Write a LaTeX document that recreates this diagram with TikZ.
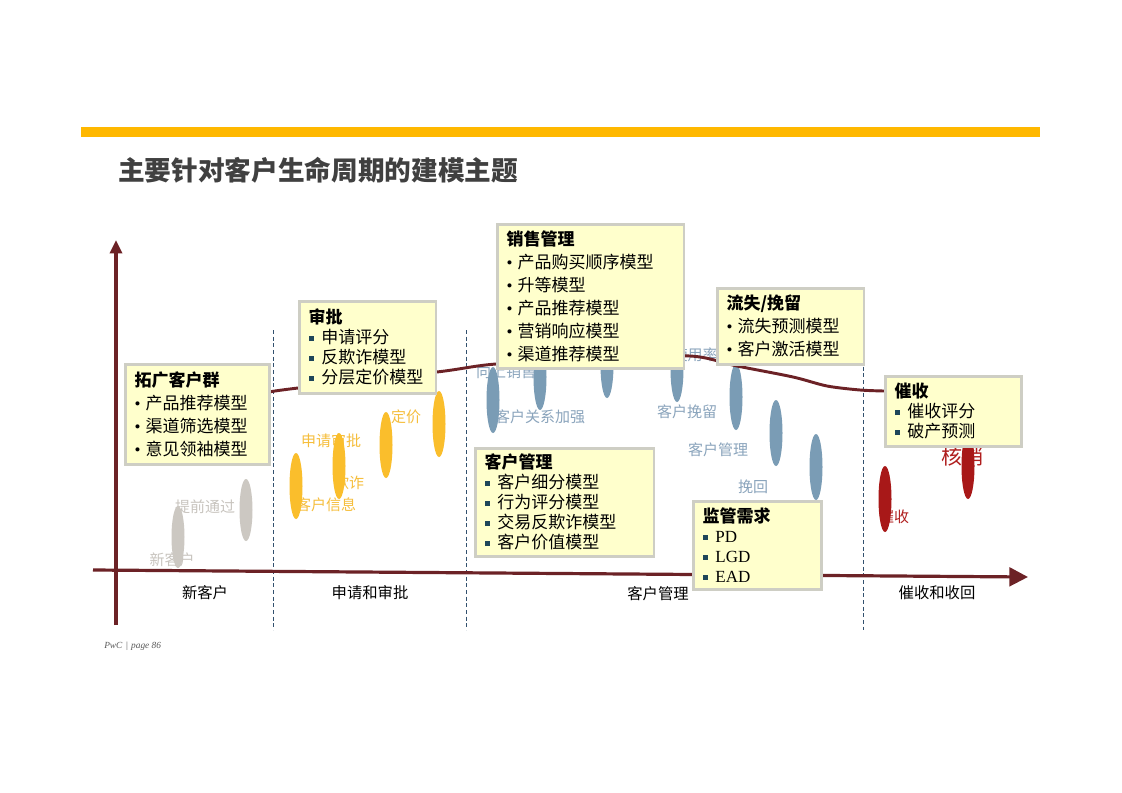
\documentclass[tikz,border=0pt]{standalone}
\usepackage{fontspec}
\setmainfont{Noto Sans CJK SC}
\newfontfamily\serifrm{Liberation Serif}
\usetikzlibrary{arrows.meta}
\pgfdeclarelayer{background}
\pgfsetlayers{background,main}

\definecolor{barColor}{RGB}{255,184,0}
\definecolor{titleColor}{RGB}{64,64,64}
\definecolor{axisColor}{RGB}{108,34,38}
\definecolor{dashColor}{RGB}{50,80,110}
\definecolor{boxFill}{RGB}{255,255,204}
\definecolor{boxLine}{RGB}{206,206,196}
\definecolor{bulletColor}{RGB}{30,70,90}
\definecolor{grayEll}{RGB}{204,200,194}
\definecolor{orangeEll}{RGB}{250,190,44}
\definecolor{blueEll}{RGB}{122,156,181}
\definecolor{redEll}{RGB}{168,24,24}
\definecolor{grayText}{RGB}{200,196,190}
\definecolor{orangeText}{RGB}{246,190,60}
\definecolor{blueText}{RGB}{138,164,188}
\definecolor{redText}{RGB}{176,30,30}
\definecolor{footColor}{RGB}{90,90,90}

\newcommand{\rdbul}{{\serifrm\textbullet}\hspace{0.3em}}
\newcommand{\sqbul}{{\color{bulletColor}\rule[0.3ex]{0.3em}{0.3em}}\hspace{0.45em}}

\begin{document}
\begin{tikzpicture}[x=0.75pt,y=-0.75pt,
  modelbox/.style={draw=boxLine,line width=2pt,fill=boxFill,anchor=north west,
    align=left,inner xsep=7pt,inner ysep=3pt,font=\fontsize{12.75}{17.25}\selectfont},
  tightbox/.style={modelbox,font=\fontsize{12.75}{15}\selectfont},
  axisline/.style={draw=axisColor,line width=2.4pt},
  stagedash/.style={draw=dashColor,line width=0.6pt,dash pattern=on 3pt off 2pt},
  stagelabel/.style={inner sep=0pt,font=\fontsize{11.5}{12}\selectfont},
  phaselabel/.style={inner sep=0pt,font=\fontsize{11.25}{12}\selectfont}]
\path[use as bounding box] (0,0) rectangle (1122,793);

% header
\fill[barColor] (81,127) rectangle (1040,137);
\node[anchor=west,inner sep=0pt,text=titleColor,font=\fontsize{20}{24}\selectfont\bfseries] (title) at (118,170) {主要针对客户生命周期的建模主题};

% model boxes
\node[modelbox,text width=94pt,minimum height=75pt] (tuoguang) at (124,363)
  {\textbf{拓广客户群}\\ \rdbul 产品推荐模型\\ \rdbul 渠道筛选模型\\ \rdbul 意见领袖模型};
\node[tightbox,text width=88.5pt,minimum height=69pt] (shenpi) at (298,300)
  {\textbf{审批}\\ \sqbul 申请评分\\ \sqbul 反欺诈模型\\ \sqbul 分层定价模型};
\node[modelbox,text width=126pt,minimum height=108pt] (xiaoshou) at (496,223)
  {\textbf{销售管理}\\ \rdbul 产品购买顺序模型\\ \rdbul 升等模型\\ \rdbul 产品推荐模型\\ \rdbul 营销响应模型\\ \rdbul 渠道推荐模型};
\node[modelbox,text width=96pt,minimum height=57pt] (liushi) at (716,287)
  {\textbf{流失/挽留}\\ \rdbul 流失预测模型\\ \rdbul 客户激活模型};
\node[tightbox,text width=88pt,minimum height=52.5pt] (cuishou) at (884,375)
  {\textbf{催收}\\ \sqbul 催收评分\\ \sqbul 破产预测};
\node[tightbox,text width=120pt,minimum height=81pt] (kehu) at (474,447)
  {\textbf{客户管理}\\ \sqbul 客户细分模型\\ \sqbul 行为评分模型\\ \sqbul 交易反欺诈模型\\ \sqbul 客户价值模型};
\node[tightbox,text width=82pt,minimum height=66pt] (jianguan) at (692,500)
  {\textbf{监管需求}\\ \sqbul {\serifrm PD}\\ \sqbul {\serifrm LGD}\\ \sqbul {\serifrm EAD}};

\begin{pgfonlayer}{background}
\fill[white] (0,0) rectangle (1122,793);
% stage separators
\draw[stagedash] (273,330) -- (273,630);
\draw[stagedash] (466,330) -- (466,630);
\draw[stagedash] (863,300) -- (863,630);

% axes
\draw[axisline,-{Triangle[length=10pt,width=9pt]}] (116,625) -- (116,240);
\draw[axisline,-{Triangle[length=14pt,width=14pt]}] (93,570) -- (1028,577);

% stages
\node[stagelabel] (s1) at (205,593) {新客户};
\node[stagelabel] (s2) at (370,593) {申请和审批};
\node[stagelabel] (s3) at (658,594) {客户管理};
\node[stagelabel] (s4) at (937,593) {催收和收回};

% phase labels
\node[phaselabel,text=grayText] (g1) at (172,560) {新客户};
\node[phaselabel,text=grayText] (g2) at (205,507) {提前通过};
\node[phaselabel,text=orangeText] (o1) at (331,441) {申请审批};
\node[phaselabel,text=orangeText] (o2) at (349,483) {欺诈};
\node[phaselabel,text=orangeText] (o3) at (326,505) {客户信息};
\node[phaselabel,text=orangeText] (o4) at (406,417) {定价};
\node[phaselabel,text=blueText] (b1) at (506,372) {向上销售};
\node[phaselabel,text=blueText] (b2) at (540,417) {客户关系加强};
\node[phaselabel,text=blueText] (b3) at (695,355) {使用率};
\node[phaselabel,text=blueText] (b4) at (687,412) {客户挽留};
\node[phaselabel,text=blueText] (b5) at (718,450) {客户管理};
\node[phaselabel,text=blueText] (b6) at (753,487) {挽回};
\node[inner sep=0pt,text=redText,font=\fontsize{15.75}{16}\selectfont] (r1) at (962,456) {核销};
\node[phaselabel,text=redText] (r2) at (894,517) {催收};

% phase ellipses
\foreach \px/\py in {178/537, 246/510}
  \fill[grayEll] (\px,\py) ellipse [x radius=6.5, y radius=31];
\foreach \px/\py in {296/486, 339/466, 386/445, 439/424}
  \fill[orangeEll] (\px,\py) ellipse [x radius=6.5, y radius=33];
\foreach \px/\py in {493/400, 540/377, 607/365, 677/369, 736/397, 776/433, 816/467}
  \fill[blueEll] (\px,\py) ellipse [x radius=6.5, y radius=33];
\foreach \px/\py in {885/499, 968/466}
  \fill[redEll] (\px,\py) ellipse [x radius=6.5, y radius=33];

% life cycle curve
\coordinate (c0) at (269,392);
\coordinate (c1) at (884,391);
\draw[axisline,line width=2.2pt] plot[smooth,tension=0.5] coordinates
  {(c0) (298,388) (437,372) (496,364) (600,359) (690,356) (737,366) (793,377) (827,386) (860,390) (c1)};
\end{pgfonlayer}

% footer
\node[anchor=west,inner sep=0pt,text=footColor,font=\serifrm\itshape\fontsize{7}{8}\selectfont] (foot) at (104,646) {PwC\,\,|\,\,page 86};
\end{tikzpicture}
\end{document}
